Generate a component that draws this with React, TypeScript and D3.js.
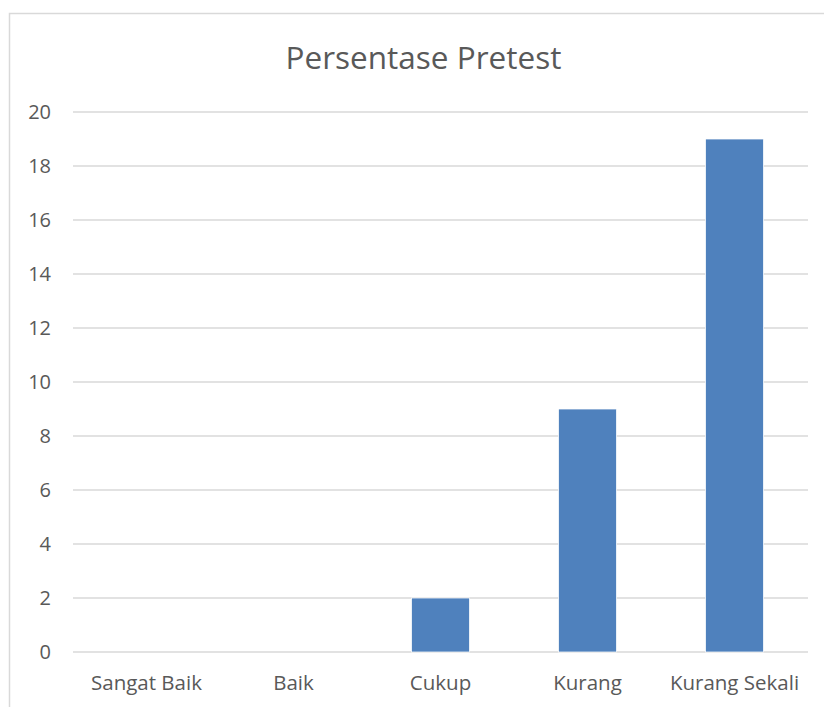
import React from "react";
import * as d3 from "d3";

const categories = ["Sangat Baik", "Baik", "Cukup", "Kurang", "Kurang Sekali"];
const values = [0, 0, 2, 9, 19];
const yTicks = [0, 2, 4, 6, 8, 10, 12, 14, 16, 18, 20];
const title = "Persentase Pretest";

export default function App() {
  const W = 824, H = 707;
  const left = 73, right = 808, top = 112, bottom = 652;
  const band = d3.scaleBand<string>().domain(categories).range([left, right]);
  const y = d3.scaleLinear().domain([0, 20]).range([bottom, top]);
  const font = "'Open Sans', sans-serif";
  const textColor = "#595959";
  const barW = 58;
  return (
    <svg width={W} height={H} style={{ position: "absolute", left: 0, top: 0 }}>
      <rect x={0} y={0} width={W} height={H} fill="#fff" />
      <path d={`M9.5,${H} V13.5 H${W}`} fill="none" stroke="#d9d9d9" strokeWidth={1.5} />
      <text x={423.5} y={68.5} textAnchor="middle" fontFamily={font} fontSize={31.5} fill={textColor}>{title}</text>
      {yTicks.map((t) => (
        <g key={t}>
          <line x1={left} x2={right} y1={y(t)} y2={y(t)} stroke="#d9d9d9" strokeWidth={1.5} />
          <text x={51} y={y(t)} dy="0.36em" textAnchor="end" fontFamily={font} fontSize={20} fill={textColor}>{t}</text>
        </g>
      ))}
      {categories.map((c, i) => {
        const cx = (band(c) as number) + band.bandwidth() / 2;
        return (
          <g key={c}>
            {values[i] > 0 && (
              <rect x={cx - barW / 2} y={y(values[i])} width={barW} height={y(0) - y(values[i])} fill="#4F81BD" stroke="#fff" strokeWidth={0.75} />
            )}
            <text x={cx} y={690} textAnchor="middle" fontFamily={font} fontSize={20.5} fill={textColor}>{c}</text>
          </g>
        );
      })}
    </svg>
  );
}
